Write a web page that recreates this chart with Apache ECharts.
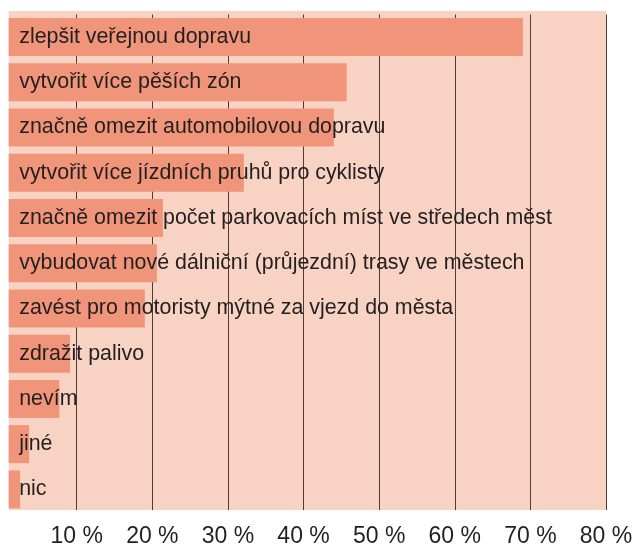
<!DOCTYPE html>
<html>
<head>
<meta charset="utf-8">
<script src="https://cdn.jsdelivr.net/npm/echarts@6/dist/echarts.min.js"></script>
<style>
html,body{margin:0;padding:0;background:#fff;}
#chart{width:639px;height:544px;}
</style>
</head>
<body>
<div id="chart"></div>
<script>
const categories = [
  "zlepšit veřejnou dopravu",
  "vytvořit více pěších zón",
  "značně omezit automobilovou dopravu",
  "vytvořit více jízdních pruhů pro cyklisty",
  "značně omezit počet parkovacích míst ve středech měst",
  "vybudovat nové dálniční (průjezdní) trasy ve městech",
  "zavést pro motoristy mýtné za vjezd do města",
  "zdražit palivo",
  "nevím",
  "jiné",
  "nic"
];
const values = [69.0, 45.7, 44.0, 32.1, 21.4, 20.6, 19.0, 9.1, 7.7, 3.7, 2.5];
const tickValues = [10, 20, 30, 40, 50, 60, 70, 80];

const chart = echarts.init(document.getElementById('chart'), null, {renderer: 'canvas'});
const FONT = "'Liberation Sans', Arial, Helvetica, sans-serif";
const BG = '#F8D2C2';
chart.setOption({
  animation: false,
  grid: {
    left: 8.7, right: 33, top: 14.5, bottom: 32,
    outerBoundsMode: 'none', containLabel: false,
    show: true, backgroundColor: BG, borderWidth: 0
  },
  graphic: [{
    type: 'rect', z: -1,
    shape: {x: 8.7, y: 11, width: 597.3, height: 4},
    style: {fill: BG}
  }, {
    type: 'rect', z: 100,
    shape: {x: 0, y: 510, width: 639, height: 3},
    style: {fill: '#ffffff'}
  }],
  xAxis: {
    type: 'value', min: 1, max: 80,
    axisLine: {show: false},
    axisTick: {show: false, customValues: tickValues},
    splitLine: {show: true, lineStyle: {color: '#4a3c38', width: 1}},
    axisLabel: {
      customValues: tickValues,
      formatter: function (v) { return v + ' %'; },
      fontSize: 23, color: '#231f20', fontFamily: FONT, margin: 13
    }
  },
  yAxis: {
    type: 'category', data: categories, inverse: true,
    axisLine: {show: false}, axisTick: {show: false}, axisLabel: {show: false},
    splitLine: {show: false}
  },
  series: [{
    type: 'bar',
    data: values,
    barWidth: 38,
    itemStyle: {color: '#F09579'},
    label: {
      show: true,
      position: 'insideLeft',
      distance: 10.5,
      formatter: function (p) { return categories[p.dataIndex]; },
      fontSize: 21.4, color: '#231f20', fontFamily: FONT
    }
  }]
});
</script>
</body>
</html>
